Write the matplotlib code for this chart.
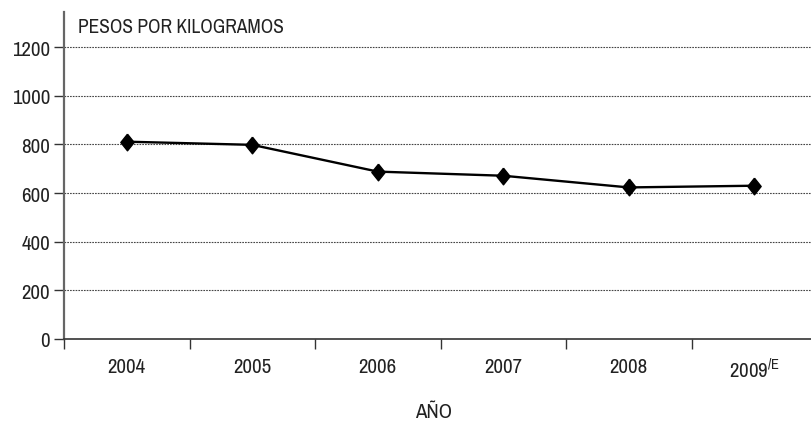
import matplotlib
matplotlib.use("Agg")
import matplotlib.pyplot as plt
import numpy as np

plt.rcParams['font.family'] = ['Archivo Narrow', 'DejaVu Sans']
plt.rcParams['mathtext.fontset'] = 'custom'
plt.rcParams['mathtext.rm'] = 'Archivo Narrow'

# data
years = ['2004', '2005', '2006', '2007', '2008', r'2009$^{\mathrm{/E}}$']
precio = [811, 798, 688, 671, 623, 630]
y_ticks = [0, 200, 400, 600, 800, 1000, 1200]

W, H = 811, 431
fig = plt.figure(figsize=(W / 100, H / 100), dpi=100)
left, right = 64, 817
bottom, top = 340, 13
ax = fig.add_axes([left / W, (H - bottom) / H, (right - left) / W, (bottom - top) / H])

# slightly narrow diamond like the original
diamond = [(0, 1), (0.8, 0), (0, -1), (-0.8, 0), (0, 1)]
x = np.arange(len(years))
ax.plot(x, precio, color='black', lw=1.7, marker=diamond, ms=12, zorder=3)

ax.set_xlim(-0.5, len(years) - 0.5)
ax.set_ylim(0, 1344)
ax.set_yticks(y_ticks)
ax.set_yticklabels([str(v) for v in y_ticks], fontsize=15, color='#222222')
ax.set_xticks(x)
ax.set_xticklabels(years, fontsize=15, color='#222222')
ax.set_xticks(np.arange(len(years) + 1) - 0.5, minor=True)
ax.tick_params(axis='x', which='major', length=0, pad=13)
ax.tick_params(axis='x', which='minor', length=7, width=1, color='#333333', direction='out')
ax.tick_params(axis='y', length=7, width=1, color='#333333', pad=3)

for v in y_ticks[1:]:
    ax.axhline(v, color='#444444', lw=0.8, ls=(0, (1.5, 1)), zorder=1)

for s in ['top', 'right']:
    ax.spines[s].set_visible(False)
ax.spines['left'].set_color('#666666')
ax.spines['left'].set_linewidth(1.6)
ax.spines['bottom'].set_color('#333333')
ax.spines['bottom'].set_linewidth(1.2)

fig.text(78 / W, 1 - 28 / H, 'PESOS POR KILOGRAMOS', fontsize=14, color='#222222', va='center', ha='left')
fig.text(434 / W, 1 - 413 / H, 'AÑO', fontsize=15, color='#222222', va='center', ha='center')

fig.savefig('out.png', dpi=100)
